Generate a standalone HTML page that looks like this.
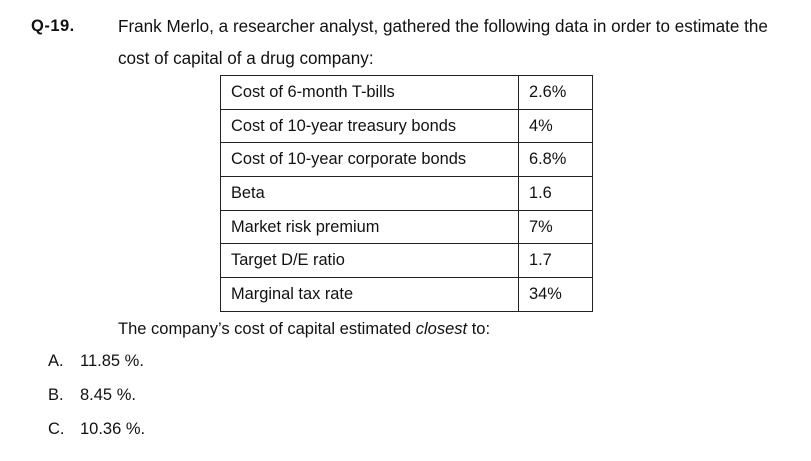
<!DOCTYPE html>
<html><head><style>
body{margin:0;width:811px;height:461px;background:#fff;position:relative;font-family:"Liberation Sans",sans-serif;color:#111;font-size:16.5px;overflow:hidden}
.t{position:absolute;white-space:nowrap;line-height:1}
table{position:absolute;left:220px;top:75px;border-collapse:collapse}
td{border:1px solid #222;height:33.7px;padding:0 0 0 10px;font-size:16.4px;box-sizing:border-box}
td.a{width:298px}td.b{width:74px}
</style></head><body>
<div class="t" style="left:31px;top:18px;font-weight:bold;font-size:16.5px;letter-spacing:0.5px">Q-19.</div>
<div class="t" style="left:118px;top:18px;font-size:17.1px">Frank Merlo, a researcher analyst, gathered the following data in order to estimate the</div>
<div class="t" style="left:118px;top:50px;font-size:17.1px">cost of capital of a drug company:</div>
<table>
<tr><td class="a">Cost of 6-month T-bills</td><td class="b">2.6%</td></tr>
<tr><td class="a">Cost of 10-year treasury bonds</td><td class="b">4%</td></tr>
<tr><td class="a">Cost of 10-year corporate bonds</td><td class="b">6.8%</td></tr>
<tr><td class="a">Beta</td><td class="b">1.6</td></tr>
<tr><td class="a">Market risk premium</td><td class="b">7%</td></tr>
<tr><td class="a">Target D/E ratio</td><td class="b">1.7</td></tr>
<tr><td class="a">Marginal tax rate</td><td class="b">34%</td></tr>
</table>
<div class="t" style="left:118px;top:321px">The company’s cost of capital estimated <i>closest</i> to:</div>
<div class="t" style="left:48px;top:353px;font-size:16.5px">A.</div><div class="t" style="left:80px;top:353px;font-size:16.5px">11.85 %.</div>
<div class="t" style="left:48px;top:387px;font-size:16.5px">B.</div><div class="t" style="left:80px;top:387px;font-size:16.5px">8.45 %.</div>
<div class="t" style="left:48px;top:421px;font-size:16.5px">C.</div><div class="t" style="left:80px;top:421px;font-size:16.5px">10.36 %.</div>
</body></html>
